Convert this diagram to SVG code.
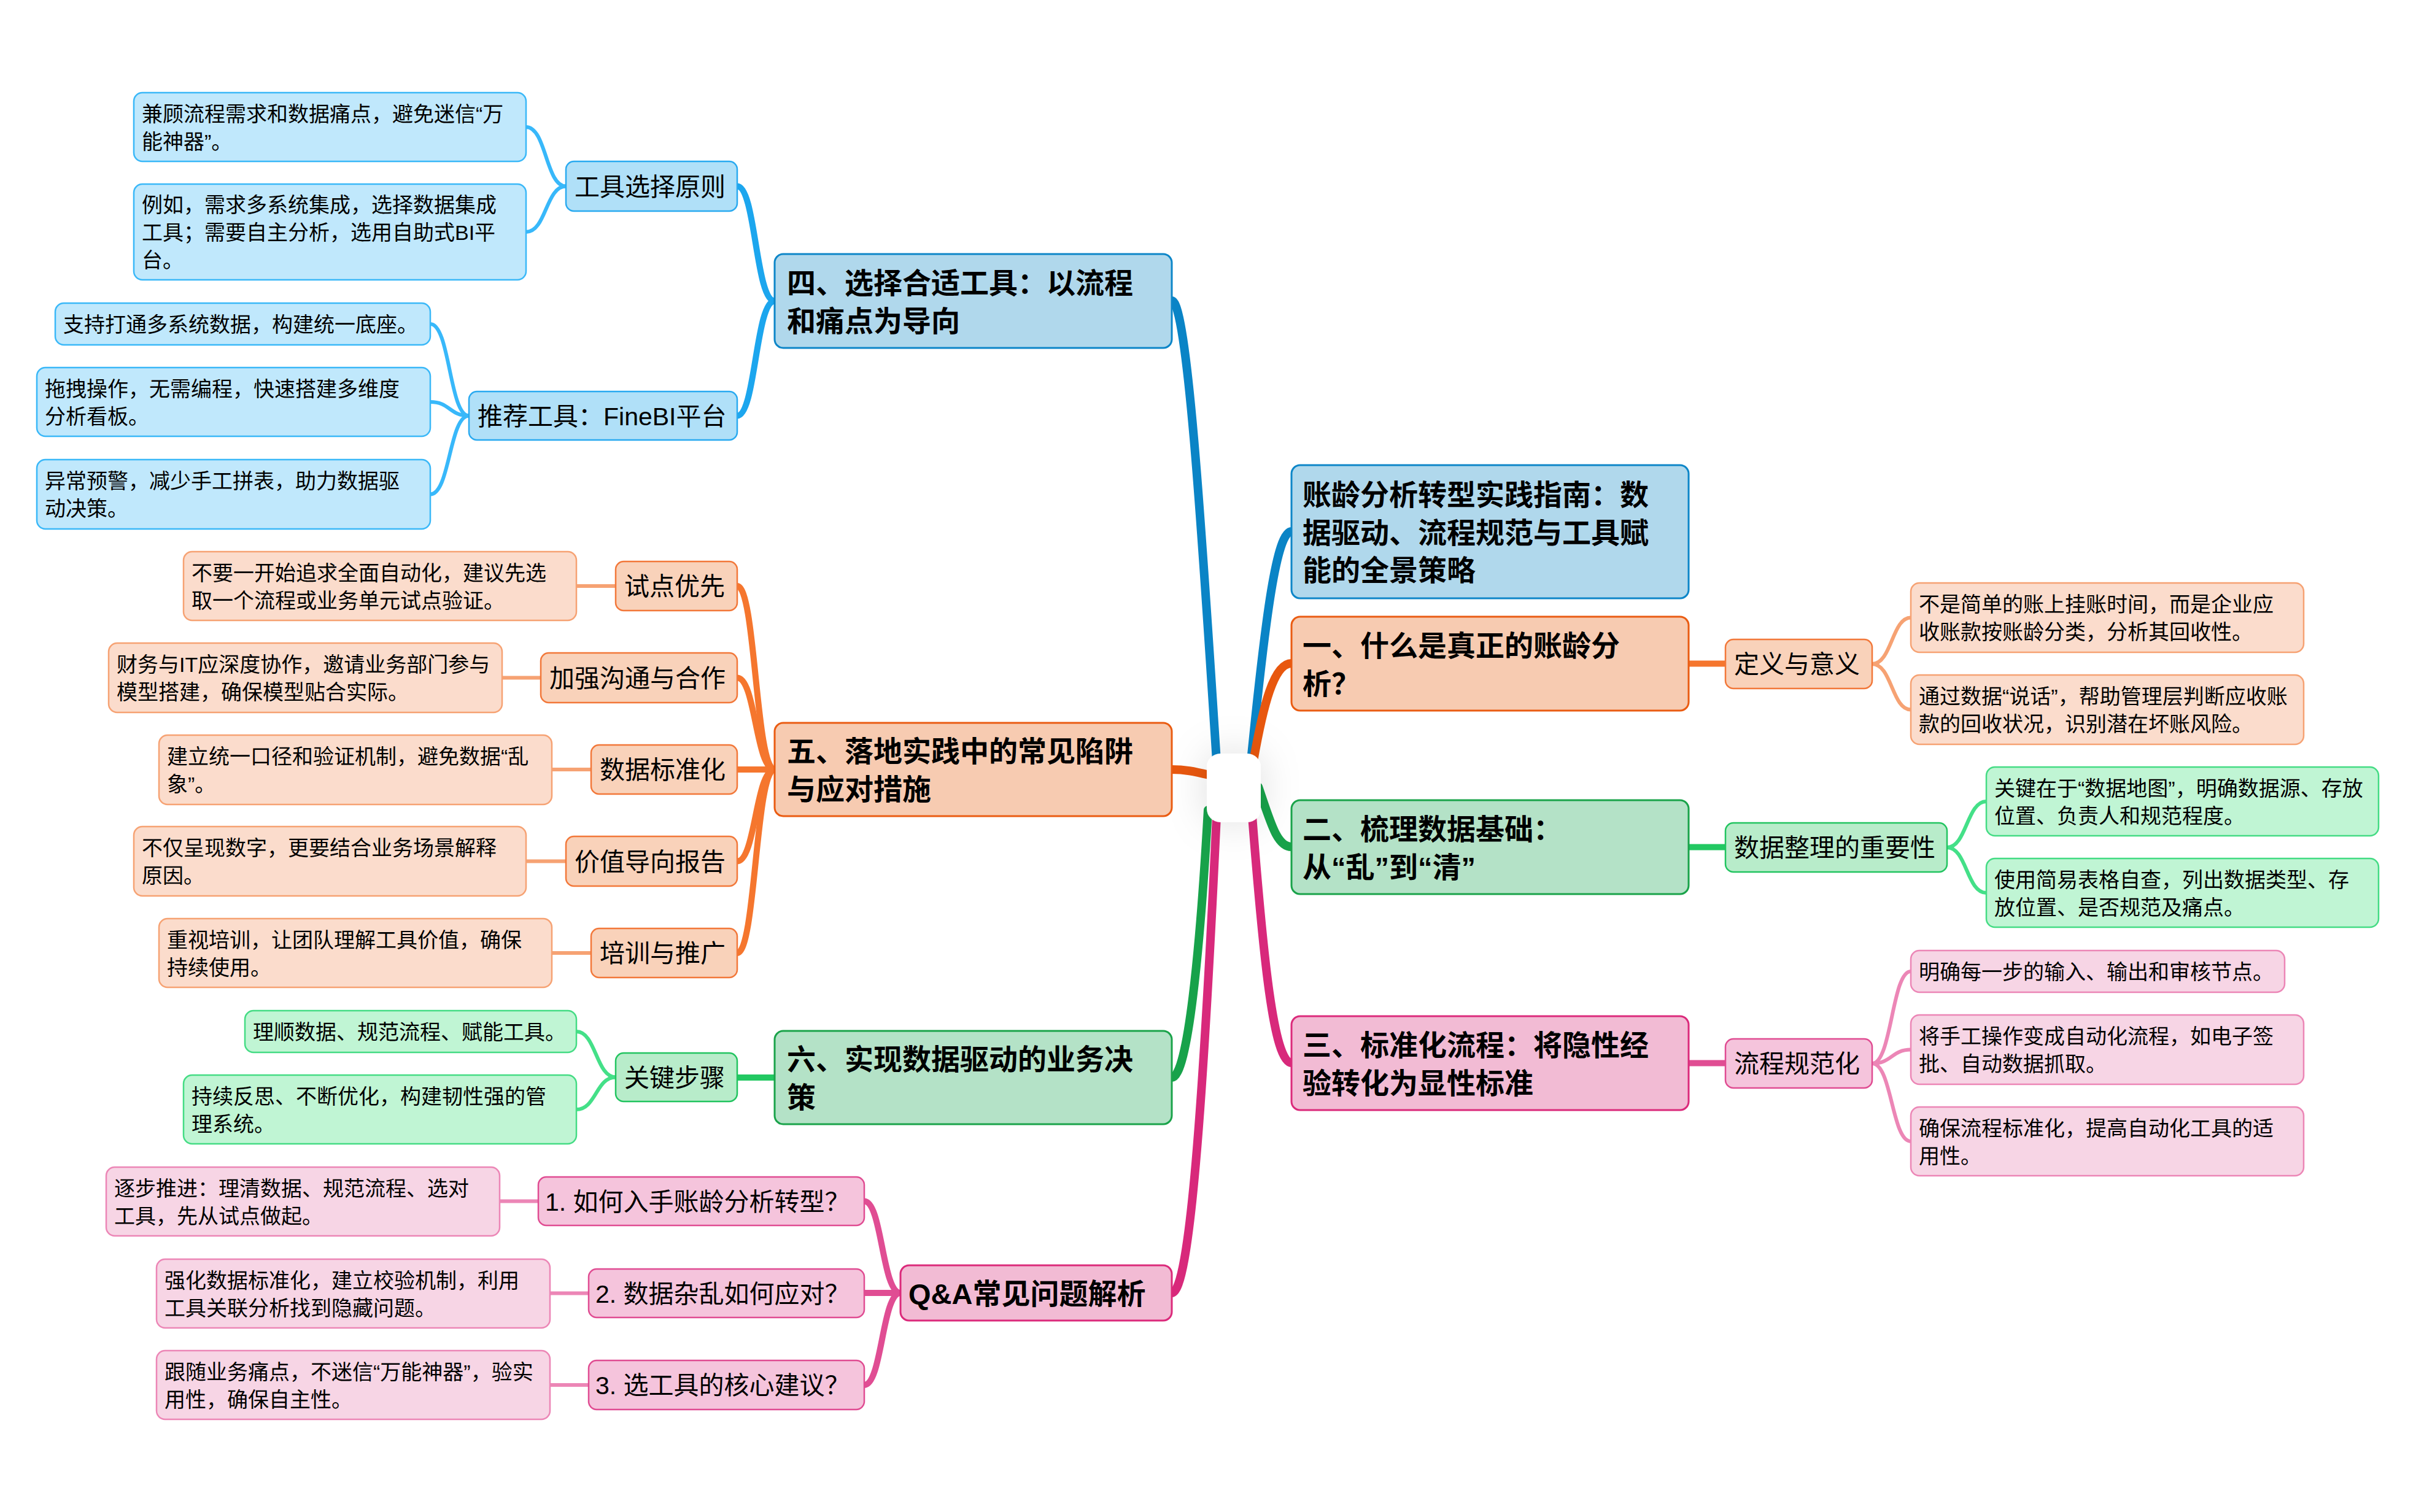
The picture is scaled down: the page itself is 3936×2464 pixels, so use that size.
<svg xmlns="http://www.w3.org/2000/svg" width="3936" height="2464" viewBox="0 0 3936 2464">
<defs>
<filter id="glow" x="-150%" y="-150%" width="400%" height="400%"><feDropShadow dx="0" dy="0" stdDeviation="32" flood-color="#000" flood-opacity="0.13"/></filter>
<style>
text{font-family:"Liberation Sans","Noto Sans CJK SC",sans-serif;fill:#000}
.t1{font-size:47px;font-weight:700}
.t2{font-size:41px}
.t3{font-size:34px}
.c{fill:none;stroke-linecap:round}
.m{stroke-width:14}
.s{stroke-width:10}
.l{stroke-width:6}
.b1{fill:#b0d8ec;stroke:#0d86c8;stroke-width:3}
.b2{fill:#b0e0f8;stroke:#2aaaf0;stroke-width:2.5}
.b3{fill:#c0e8fc;stroke:#3ab8f8;stroke-width:2.5}
.o1{fill:#f7cbb1;stroke:#ea5c12;stroke-width:3}
.o2{fill:#f9d2ba;stroke:#f2783a;stroke-width:2.5}
.o3{fill:#fbdccc;stroke:#f6a273;stroke-width:2.5}
.g1{fill:#b4e2c7;stroke:#1aa34a;stroke-width:3}
.g2{fill:#b8ecca;stroke:#22c460;stroke-width:2.5}
.g3{fill:#c0f5d4;stroke:#44dc84;stroke-width:2.5}
.p1{fill:#f2bbd4;stroke:#db2a7b;stroke-width:3}
.p2{fill:#f5c4dc;stroke:#e04c92;stroke-width:2.5}
.p3{fill:#f7d5e5;stroke:#ec86b6;stroke-width:2.5}
</style>
</defs>
<rect width="3936" height="2464" fill="#fff"/>
<g id="connectors">
<path class="c m" stroke="#0a84c6" d="M2038,1240 C2062,1000 2080,866 2104,866"/>
<path class="c m" stroke="#e8570e" d="M2042,1240 C2058,1150 2075,1081 2104,1081"/>
<path class="c m" stroke="#17a24a" d="M2050,1282 C2070,1340 2080,1380 2104,1380"/>
<path class="c m" stroke="#d8297b" d="M2040,1330 C2058,1560 2075,1732 2104,1732"/>
<path class="c m" stroke="#0a84c6" d="M1982,1240 C1960,900 1935,490 1909,490"/>
<path class="c m" stroke="#e8570e" d="M1970,1263 C1945,1257 1930,1254 1909,1254"/>
<path class="c m" stroke="#17a24a" d="M1968,1320 C1955,1550 1935,1756 1909,1756"/>
<path class="c m" stroke="#d8297b" d="M1982,1330 C1960,1800 1938,2107 1909,2107"/>
<g class="c s" stroke="#1ca6ee">
<path d="M1262,490.5 C1231,490.5 1231,303.5 1201,303.5"/>
<path d="M1262,490.5 C1231,490.5 1231,677.5 1201,677.5"/>
</g>
<g class="c s" stroke="#f5762e">
<path d="M1262,1254 C1231,1254 1231,955 1201,955"/>
<path d="M1262,1254 C1231,1254 1231,1104.5 1201,1104.5"/>
<path d="M1262,1254 L1201,1254"/>
<path d="M1262,1254 C1231,1254 1231,1403.5 1201,1403.5"/>
<path d="M1262,1254 C1231,1254 1231,1553 1201,1553"/>
</g>
<path class="c s" stroke="#22c862" d="M1262,1756 L1201,1756"/>
<g class="c s" stroke="#e04d93">
<path d="M1467,2107 C1437,2107 1437,1957.5 1408,1957.5"/>
<path d="M1467,2107 L1408,2107"/>
<path d="M1467,2107 C1437,2107 1437,2257 1408,2257"/>
</g>
<path class="c s" stroke="#f5762e" d="M2751,1081.5 L2811,1081.5"/>
<path class="c s" stroke="#22c862" d="M2751,1380.5 L2811,1380.5"/>
<path class="c s" stroke="#e04d93" d="M2751,1732.5 L2811,1732.5"/>
<g class="c l" stroke="#38b8fa">
<path d="M922,303.5 C889,303.5 890,207 857,207"/>
<path d="M922,303.5 C889,303.5 890,378 857,378"/>
<path d="M764,677.5 C732,677.5 733,528 701,528"/>
<path d="M764,677.5 C732,677.5 733,655 701,655"/>
<path d="M764,677.5 C732,677.5 733,805.5 701,805.5"/>
</g>
<g class="c l" stroke="#f6a273">
<path d="M1003,955 L939,955"/>
<path d="M881,1104.5 L818,1104.5"/>
<path d="M963,1254 L899,1254"/>
<path d="M922,1403.5 L857,1403.5"/>
<path d="M963,1553 L899,1553"/>
<path d="M3050,1082 C3082,1082 3082,1006.5 3113,1006.5"/>
<path d="M3050,1082 C3082,1082 3082,1156.5 3113,1156.5"/>
</g>
<g class="c l" stroke="#44e088">
<path d="M1003,1755.5 C971,1755.5 971,1681 939,1681"/>
<path d="M1003,1755.5 C971,1755.5 971,1808 939,1808"/>
<path d="M3172,1381 C3204,1381 3204,1306 3236,1306"/>
<path d="M3172,1381 C3204,1381 3204,1455 3236,1455"/>
</g>
<g class="c l" stroke="#ec86b6">
<path d="M877,1957.5 L814,1957.5"/>
<path d="M959,2107.5 L896,2107.5"/>
<path d="M959,2257 L896,2257"/>
<path d="M3050,1733 C3082,1733 3082,1583 3113,1583"/>
<path d="M3050,1733 C3082,1733 3082,1710.5 3113,1710.5"/>
<path d="M3050,1733 C3082,1733 3082,1860 3113,1860"/>
</g>
</g>
<g id="center"><rect x="1966" y="1228" width="88" height="112" rx="22" fill="#fff" filter="url(#glow)"/></g>
<g id="title"><rect class="b1" x="2104" y="758" width="647" height="217" rx="14"/><text class="t1" x="2122" y="823">账龄分析转型实践指南：数</text><text class="t1" x="2122" y="884.5">据驱动、流程规范与工具赋</text><text class="t1" x="2122" y="946">能的全景策略</text></g>
<g id="n1"><rect class="o1" x="2104" y="1005" width="647" height="153" rx="14"/><text class="t1" x="2122" y="1068.5">一、什么是真正的账龄分</text><text class="t1" x="2122" y="1130.5">析？</text></g>
<g id="n1a"><rect class="o2" x="2811" y="1042" width="239" height="80" rx="13"/><text class="t2" x="2825" y="1097">定义与意义</text></g>
<g id="n1a1"><rect class="o3" x="3113" y="950" width="640" height="113" rx="14"/><text class="t3" x="3126" y="997">不是简单的账上挂账时间，而是企业应</text><text class="t3" x="3126" y="1042">收账款按账龄分类，分析其回收性。</text></g>
<g id="n1a2"><rect class="o3" x="3113" y="1100" width="640" height="113" rx="14"/><text class="t3" x="3126" y="1147">通过数据“说话”，帮助管理层判断应收账</text><text class="t3" x="3126" y="1192">款的回收状况，识别潜在坏账风险。</text></g>
<g id="n2"><rect class="g1" x="2104" y="1304" width="647" height="153" rx="14"/><text class="t1" x="2122" y="1367.5">二、梳理数据基础：</text><text class="t1" x="2122" y="1429.5">从“乱”到“清”</text></g>
<g id="n2a"><rect class="g2" x="2811" y="1341" width="361" height="80" rx="13"/><text class="t2" x="2825" y="1396">数据整理的重要性</text></g>
<g id="n2a1"><rect class="g3" x="3236" y="1250" width="639" height="112" rx="14"/><text class="t3" x="3249" y="1296.5">关键在于“数据地图”，明确数据源、存放</text><text class="t3" x="3249" y="1341.5">位置、负责人和规范程度。</text></g>
<g id="n2a2"><rect class="g3" x="3236" y="1399" width="639" height="112" rx="14"/><text class="t3" x="3249" y="1445.5">使用简易表格自查，列出数据类型、存</text><text class="t3" x="3249" y="1490.5">放位置、是否规范及痛点。</text></g>
<g id="n3"><rect class="p1" x="2104" y="1656" width="647" height="153" rx="14"/><text class="t1" x="2122" y="1719.5">三、标准化流程：将隐性经</text><text class="t1" x="2122" y="1781.5">验转化为显性标准</text></g>
<g id="n3a"><rect class="p2" x="2811" y="1693" width="239" height="80" rx="13"/><text class="t2" x="2825" y="1748">流程规范化</text></g>
<g id="n3a1"><rect class="p3" x="3113" y="1549" width="609" height="68" rx="14"/><text class="t3" x="3126" y="1596">明确每一步的输入、输出和审核节点。</text></g>
<g id="n3a2"><rect class="p3" x="3113" y="1654" width="640" height="113" rx="14"/><text class="t3" x="3126" y="1701">将手工操作变成自动化流程，如电子签</text><text class="t3" x="3126" y="1746">批、自动数据抓取。</text></g>
<g id="n3a3"><rect class="p3" x="3113" y="1804" width="640" height="112" rx="14"/><text class="t3" x="3126" y="1850.5">确保流程标准化，提高自动化工具的适</text><text class="t3" x="3126" y="1895.5">用性。</text></g>
<g id="n4"><rect class="b1" x="1262" y="414" width="647" height="153" rx="14"/><text class="t1" x="1282" y="477.5">四、选择合适工具：以流程</text><text class="t1" x="1282" y="539.5">和痛点为导向</text></g>
<g id="n4a"><rect class="b2" x="922" y="263" width="279" height="81" rx="13"/><text class="t2" x="936" y="318.5">工具选择原则</text></g>
<g id="n4a1"><rect class="b3" x="218" y="151" width="639" height="112" rx="14"/><text class="t3" x="231" y="197.5">兼顾流程需求和数据痛点，避免迷信“万</text><text class="t3" x="231" y="242.5">能神器”。</text></g>
<g id="n4a2"><rect class="b3" x="218" y="300" width="639" height="156" rx="14"/><text class="t3" x="231" y="346">例如，需求多系统集成，选择数据集成</text><text class="t3" x="231" y="391">工具；需要自主分析，选用自助式BI平</text><text class="t3" x="231" y="436">台。</text></g>
<g id="n4b"><rect class="b2" x="764" y="638" width="437" height="79" rx="13"/><text class="t2" x="778" y="692.5">推荐工具：FineBI平台</text></g>
<g id="n4b1"><rect class="b3" x="90" y="494" width="611" height="68" rx="14"/><text class="t3" x="103" y="541">支持打通多系统数据，构建统一底座。</text></g>
<g id="n4b2"><rect class="b3" x="60" y="599" width="641" height="112" rx="14"/><text class="t3" x="73" y="645.5">拖拽操作，无需编程，快速搭建多维度</text><text class="t3" x="73" y="690.5">分析看板。</text></g>
<g id="n4b3"><rect class="b3" x="60" y="749" width="641" height="113" rx="14"/><text class="t3" x="73" y="796">异常预警，减少手工拼表，助力数据驱</text><text class="t3" x="73" y="841">动决策。</text></g>
<g id="n5"><rect class="o1" x="1262" y="1178" width="647" height="152" rx="14"/><text class="t1" x="1282" y="1241">五、落地实践中的常见陷阱</text><text class="t1" x="1282" y="1303">与应对措施</text></g>
<g id="n5a"><rect class="o2" x="1003" y="915" width="198" height="80" rx="13"/><text class="t2" x="1017" y="970">试点优先</text></g>
<g id="n5a1"><rect class="o3" x="299" y="899" width="640" height="112" rx="14"/><text class="t3" x="312" y="945.5">不要一开始追求全面自动化，建议先选</text><text class="t3" x="312" y="990.5">取一个流程或业务单元试点验证。</text></g>
<g id="n5b"><rect class="o2" x="881" y="1064" width="320" height="81" rx="13"/><text class="t2" x="895" y="1119.5">加强沟通与合作</text></g>
<g id="n5b1"><rect class="o3" x="177" y="1048" width="641" height="113" rx="14"/><text class="t3" x="190" y="1095">财务与IT应深度协作，邀请业务部门参与</text><text class="t3" x="190" y="1140">模型搭建，确保模型贴合实际。</text></g>
<g id="n5c"><rect class="o2" x="963" y="1214" width="238" height="80" rx="13"/><text class="t2" x="977" y="1269">数据标准化</text></g>
<g id="n5c1"><rect class="o3" x="259" y="1198" width="640" height="113" rx="14"/><text class="t3" x="272" y="1245">建立统一口径和验证机制，避免数据“乱</text><text class="t3" x="272" y="1290">象”。</text></g>
<g id="n5d"><rect class="o2" x="922" y="1363" width="279" height="81" rx="13"/><text class="t2" x="936" y="1418.5">价值导向报告</text></g>
<g id="n5d1"><rect class="o3" x="218" y="1347" width="639" height="113" rx="14"/><text class="t3" x="231" y="1394">不仅呈现数字，更要结合业务场景解释</text><text class="t3" x="231" y="1439">原因。</text></g>
<g id="n5e"><rect class="o2" x="963" y="1513" width="238" height="80" rx="13"/><text class="t2" x="977" y="1568">培训与推广</text></g>
<g id="n5e1"><rect class="o3" x="259" y="1497" width="640" height="112" rx="14"/><text class="t3" x="272" y="1543.5">重视培训，让团队理解工具价值，确保</text><text class="t3" x="272" y="1588.5">持续使用。</text></g>
<g id="n6"><rect class="g1" x="1262" y="1680" width="647" height="152" rx="14"/><text class="t1" x="1282" y="1743">六、实现数据驱动的业务决</text><text class="t1" x="1282" y="1805">策</text></g>
<g id="n6a"><rect class="g2" x="1003" y="1716" width="198" height="79" rx="13"/><text class="t2" x="1017" y="1770.5">关键步骤</text></g>
<g id="n6a1"><rect class="g3" x="399" y="1647" width="540" height="68" rx="14"/><text class="t3" x="412" y="1694">理顺数据、规范流程、赋能工具。</text></g>
<g id="n6a2"><rect class="g3" x="299" y="1752" width="640" height="112" rx="14"/><text class="t3" x="312" y="1798.5">持续反思、不断优化，构建韧性强的管</text><text class="t3" x="312" y="1843.5">理系统。</text></g>
<g id="n7"><rect class="p1" x="1467" y="2062" width="442" height="90" rx="14"/><text class="t1" x="1480" y="2125">Q&amp;A常见问题解析</text></g>
<g id="n7a"><rect class="p2" x="877" y="1918" width="531" height="79" rx="13"/><text class="t2" x="888" y="1972.5">1. 如何入手账龄分析转型？</text></g>
<g id="n7a1"><rect class="p3" x="173" y="1902" width="641" height="112" rx="14"/><text class="t3" x="186" y="1948.5">逐步推进：理清数据、规范流程、选对</text><text class="t3" x="186" y="1993.5">工具，先从试点做起。</text></g>
<g id="n7b"><rect class="p2" x="959" y="2068" width="449" height="79" rx="13"/><text class="t2" x="970" y="2122.5">2. 数据杂乱如何应对？</text></g>
<g id="n7b1"><rect class="p3" x="255" y="2052" width="641" height="112" rx="14"/><text class="t3" x="268" y="2098.5">强化数据标准化，建立校验机制，利用</text><text class="t3" x="268" y="2143.5">工具关联分析找到隐藏问题。</text></g>
<g id="n7c"><rect class="p2" x="959" y="2217" width="449" height="80" rx="13"/><text class="t2" x="970" y="2272">3. 选工具的核心建议？</text></g>
<g id="n7c1"><rect class="p3" x="255" y="2201" width="641" height="112" rx="14"/><text class="t3" x="268" y="2247.5">跟随业务痛点，不迷信“万能神器”，验实</text><text class="t3" x="268" y="2292.5">用性，确保自主性。</text></g>
</svg>
